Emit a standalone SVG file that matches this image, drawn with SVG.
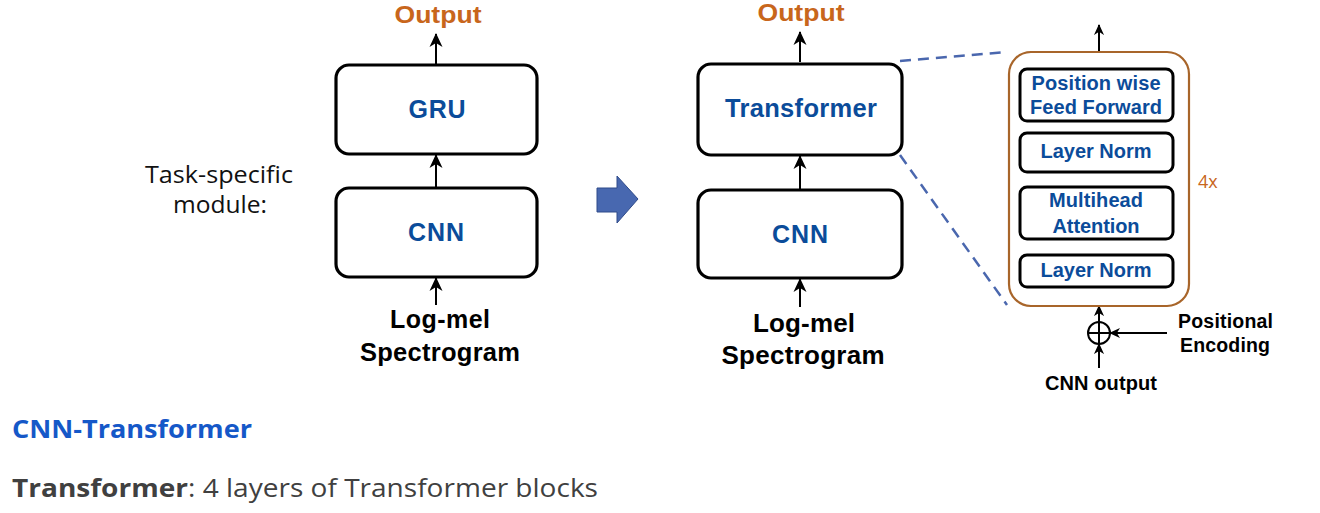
<svg xmlns="http://www.w3.org/2000/svg" width="1320" height="513" viewBox="0 0 1320 513">
<defs>
<marker id="ah" viewBox="0 0 14 14" markerWidth="14" markerHeight="14" refX="13" refY="7" orient="auto" markerUnits="userSpaceOnUse">
<path d="M0,0.5 L14,7 L0,13.5 L4,7 z" fill="#000"/>
</marker>
<marker id="ahs" viewBox="0 0 12 12" markerWidth="11" markerHeight="11" refX="11" refY="6" orient="auto" markerUnits="userSpaceOnUse">
<path d="M0,0.5 L12,6 L0,11.5 L3.5,6 z" fill="#000"/>
</marker>
</defs>
<style>
.box{fill:#fff;stroke:#000;stroke-width:3.2}
.ibox{fill:#fff;stroke:#000;stroke-width:3}
.lbl{font-family:"Liberation Sans",Arial,sans-serif;font-weight:bold;fill:#0B4C9A;text-anchor:middle}
.blk{font-family:"Liberation Sans",Arial,sans-serif;font-weight:bold;fill:#000;text-anchor:middle}
.out{font-family:"Liberation Sans",Arial,sans-serif;font-weight:bold;fill:#C8661C;text-anchor:middle;font-size:24px}
.conn{stroke:#000;stroke-width:2;fill:none}
.dash{stroke:#4A67AE;stroke-width:2.5;stroke-dasharray:11,7;fill:none}
</style>
<rect width="1320" height="513" fill="#fff"/>

<g id="connectors">
<line class="conn" x1="436" y1="64" x2="436" y2="34" marker-end="url(#ah)"/>
<line class="conn" x1="436" y1="188" x2="436" y2="155" marker-end="url(#ah)"/>
<line class="conn" x1="436" y1="305" x2="436" y2="278" marker-end="url(#ah)"/>
<line class="conn" x1="800" y1="62" x2="800" y2="32" marker-end="url(#ah)"/>
<line class="conn" x1="800" y1="189" x2="800" y2="156" marker-end="url(#ah)"/>
<line class="conn" x1="800" y1="307" x2="800" y2="279" marker-end="url(#ah)"/>
<line class="conn" x1="1099" y1="51" x2="1099" y2="25" marker-end="url(#ahs)"/>
<line class="conn" x1="1099" y1="322" x2="1099" y2="306" marker-end="url(#ahs)"/>
<line class="conn" x1="1099" y1="368" x2="1099" y2="344" marker-end="url(#ahs)"/>
<line class="conn" x1="1167" y1="333" x2="1110" y2="333" marker-end="url(#ahs)"/>
<line class="dash" x1="900" y1="61" x2="1007" y2="52"/>
<line class="dash" x1="900" y1="155" x2="1007" y2="305"/>
</g>

<g id="left-output"><text class="out" x="438" y="23" textLength="87" lengthAdjust="spacingAndGlyphs">Output</text></g>
<g id="gru"><rect class="box" x="336" y="65" width="201" height="89" rx="13"/><text class="lbl" x="437" y="118" font-size="25" textLength="57" lengthAdjust="spacing">GRU</text></g>
<g id="cnn-left"><rect class="box" x="336" y="188" width="201" height="89" rx="13"/><text class="lbl" x="436" y="241" font-size="25" textLength="56" lengthAdjust="spacing">CNN</text></g>
<g id="input-left"><text class="blk" x="440" y="328" font-size="25" textLength="100" lengthAdjust="spacing">Log-mel</text><text class="blk" x="440" y="361" font-size="25.5" textLength="160" lengthAdjust="spacing">Spectrogram</text></g>

<g id="task-label"><text x="219" y="183" font-family="'Open Sans','Liberation Sans',sans-serif" font-size="23" text-anchor="middle" fill="#111" textLength="148" lengthAdjust="spacingAndGlyphs">Task-specific</text><text x="220" y="213" font-family="'Open Sans','Liberation Sans',sans-serif" font-size="23" text-anchor="middle" fill="#111" textLength="94" lengthAdjust="spacingAndGlyphs">module:</text></g>

<g id="big-arrow"><path d="M597,188 L617,188 L617,176 L638,199 L617,223 L617,212 L597,212 z" fill="#4868B0" stroke="#2F4B8A" stroke-width="1"/></g>

<g id="middle-output"><text class="out" x="801" y="21" textLength="87" lengthAdjust="spacingAndGlyphs">Output</text></g>
<g id="transformer"><rect class="box" x="698" y="64" width="204" height="91" rx="13"/><text class="lbl" x="801" y="117" font-size="25.5" textLength="152" lengthAdjust="spacing">Transformer</text></g>
<g id="cnn-mid"><rect class="box" x="698" y="190" width="204" height="88" rx="13"/><text class="lbl" x="800" y="243" font-size="25" textLength="56" lengthAdjust="spacing">CNN</text></g>
<g id="input-mid"><text class="blk" x="804" y="332" font-size="26" textLength="102" lengthAdjust="spacing">Log-mel</text><text class="blk" x="803" y="364" font-size="26" textLength="163" lengthAdjust="spacing">Spectrogram</text></g>

<g id="transformer-block"><rect x="1009" y="52" width="180" height="254" rx="22" fill="none" stroke="#A8652A" stroke-width="2.2"/></g>
<g id="ffn"><rect class="ibox" x="1020" y="69" width="153" height="52" rx="7"/><text class="lbl" x="1096" y="90" font-size="20" textLength="129" lengthAdjust="spacing">Position wise</text><text class="lbl" x="1096" y="114" font-size="20" textLength="132" lengthAdjust="spacing">Feed Forward</text></g>
<g id="layernorm2"><rect class="ibox" x="1020" y="133" width="153" height="39" rx="7"/><text class="lbl" x="1096" y="158" font-size="20" textLength="111" lengthAdjust="spacing">Layer Norm</text></g>
<g id="mha"><rect class="ibox" x="1020" y="187" width="153" height="52" rx="7"/><text class="lbl" x="1096" y="207" font-size="20" textLength="94" lengthAdjust="spacing">Multihead</text><text class="lbl" x="1096" y="233" font-size="20" textLength="87" lengthAdjust="spacing">Attention</text></g>
<g id="layernorm1"><rect class="ibox" x="1020" y="255" width="153" height="32" rx="7"/><text class="lbl" x="1096" y="277" font-size="20" textLength="111" lengthAdjust="spacing">Layer Norm</text></g>
<g id="repeat"><text x="1198" y="188" font-family="'Open Sans','Liberation Sans',sans-serif" font-size="18" fill="#C8661C">4x</text></g>

<g id="adder"><circle cx="1099" cy="333" r="11" fill="#fff" stroke="#000" stroke-width="2"/><line x1="1088" y1="333" x2="1110" y2="333" stroke="#000" stroke-width="2"/><line x1="1099" y1="322" x2="1099" y2="344" stroke="#000" stroke-width="2"/></g>
<g id="pos-enc"><text class="blk" x="1178" y="328" font-size="19.5" style="text-anchor:start" textLength="95" lengthAdjust="spacing">Positional</text><text class="blk" x="1180" y="352" font-size="19.5" style="text-anchor:start" textLength="90" lengthAdjust="spacing">Encoding</text></g>
<g id="cnn-output"><text class="blk" x="1101" y="390" font-size="20" textLength="112" lengthAdjust="spacing">CNN output</text></g>

<g id="caption"><text x="12" y="438" font-family="'Open Sans','Liberation Sans',sans-serif" font-weight="bold" font-size="25" fill="#1558C8" textLength="240" lengthAdjust="spacingAndGlyphs">CNN-Transformer</text><text x="12" y="497" font-family="'Open Sans','Liberation Sans',sans-serif" font-size="25" fill="#404040" textLength="586" lengthAdjust="spacingAndGlyphs"><tspan font-weight="bold">Transformer</tspan>: 4 layers of Transformer blocks</text></g>
</svg>
